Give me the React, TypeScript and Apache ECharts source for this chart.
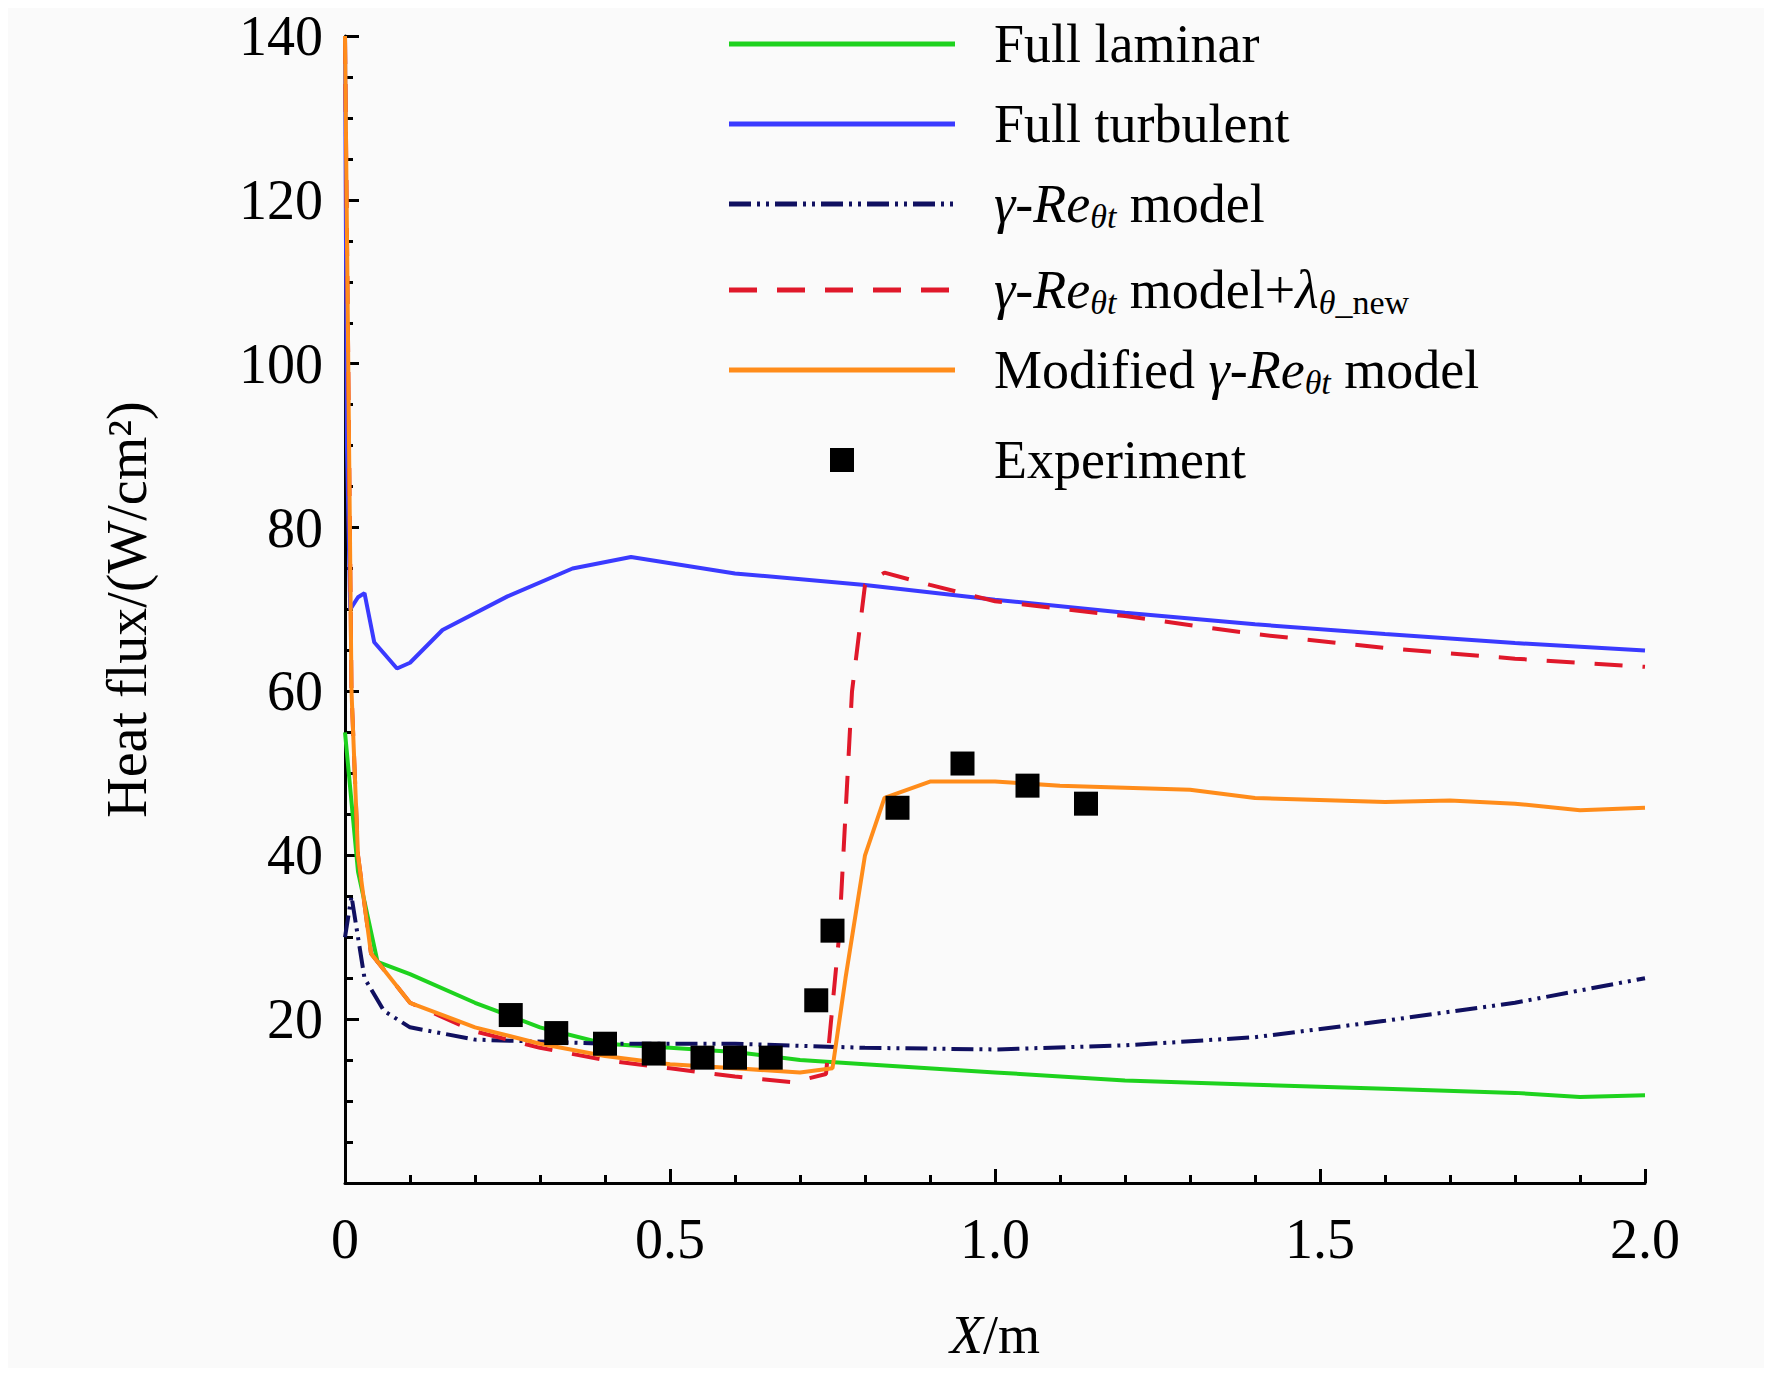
import React, { useEffect, useRef } from 'react';
import * as echarts from 'echarts';

const turbulent = [[0, 140], [0.003, 90], [0.008, 70], [0.02, 71.5], [0.03, 72], [0.045, 66], [0.08, 62.8], [0.1, 63.5], [0.15, 67.5], [0.25, 71.6], [0.35, 75], [0.44, 76.4], [0.6, 74.4], [0.8, 73], [1.0, 71.2], [1.2, 69.6], [1.4, 68.2], [1.6, 67], [1.8, 65.9], [2.0, 65]];
const lambdaNew = [[0, 140], [0.01, 60], [0.02, 40], [0.04, 28], [0.1, 22], [0.2, 18.5], [0.3, 16.5], [0.4, 15], [0.5, 14], [0.6, 13], [0.69, 12.3], [0.74, 13.3], [0.76, 30], [0.78, 60], [0.8, 73], [0.83, 74.5], [0.9, 73], [1.0, 71], [1.2, 69.2], [1.4, 67], [1.6, 65.3], [1.8, 64], [2.0, 63]];
const modified = [[0, 140], [0.01, 60], [0.02, 40], [0.04, 28], [0.1, 22], [0.2, 19], [0.3, 17], [0.4, 15.5], [0.5, 14.5], [0.6, 14], [0.7, 13.5], [0.75, 14], [0.77, 25], [0.8, 40], [0.83, 47], [0.9, 49], [1.0, 49], [1.1, 48.5], [1.3, 48], [1.4, 47], [1.6, 46.5], [1.7, 46.7], [1.8, 46.3], [1.9, 45.5], [2.0, 45.8]];
const laminar = [[0, 55], [0.02, 38], [0.05, 27], [0.1, 25.5], [0.2, 22], [0.3, 19], [0.4, 17], [0.5, 16.5], [0.6, 16], [0.7, 15], [0.8, 14.5], [1.0, 13.5], [1.2, 12.5], [1.4, 12], [1.6, 11.5], [1.8, 11], [1.9, 10.5], [2.0, 10.7]];
const gammaRe = [[0, 30], [0.01, 35], [0.03, 25], [0.06, 21], [0.1, 19], [0.2, 17.5], [0.4, 17], [0.6, 17], [0.8, 16.5], [1.0, 16.3], [1.2, 16.8], [1.4, 17.8], [1.6, 19.8], [1.8, 22], [2.0, 25]];
const experiment = [[0.255, 20.5], [0.325, 18.3], [0.4, 17], [0.475, 15.8], [0.55, 15.3], [0.6, 15.3], [0.655, 15.3], [0.725, 22.3], [0.75, 30.8], [0.85, 45.8], [0.95, 51.2], [1.05, 48.5], [1.14, 46.3]];

const FONT = '"Liberation Serif", "DejaVu Serif", serif';
const rich = {
  i: { fontStyle: 'italic', fontSize: 54, fontFamily: FONT, fill: '#000', color: '#000' },
  n: { fontSize: 54, fontFamily: FONT, fill: '#000', color: '#000' },
  sub: { fontStyle: 'italic', fontSize: 34, fontFamily: FONT, fill: '#000', padding: [24, 0, 0, 0] },
  subn: { fontSize: 34, fontFamily: FONT, fill: '#000', padding: [24, 0, 0, 0] },
};

const legendRows = [
  { text: '{n|Full laminar}', color: '#1ed21e', dash: 'solid' },
  { text: '{n|Full turbulent}', color: '#3a3aff', dash: 'solid' },
  { text: '{i|γ}{n|-}{i|Re}{sub|θt}{n| model}', color: '#101060', dash: [22, 6, 3, 6, 3, 6] },
  { text: '{i|γ}{n|-}{i|Re}{sub|θt}{n| model+}{i|λ}{sub|θ}{subn|_new}', color: '#e0182a', dash: [28, 20] },
  { text: '{n|Modified }{i|γ}{n|-}{i|Re}{sub|θt}{n| model}', color: '#ff8c1a', dash: 'solid' },
];
const rowY = [36, 116, 196, 282, 362];

export default function App() {
  const ref = useRef<HTMLDivElement>(null);
  useEffect(() => {
    if (!ref.current) return;
    const chart = echarts.init(ref.current, null, { renderer: 'svg' });
    const graphic: any[] = [];
    legendRows.forEach((r, k) => {
      graphic.push({ type: 'line', shape: { x1: 721, y1: rowY[k], x2: 947, y2: rowY[k] }, style: { stroke: r.color, lineWidth: 5, lineDash: r.dash === 'solid' ? null : r.dash } });
      graphic.push({ type: 'text', x: 986, y: rowY[k], style: { text: r.text, rich, verticalAlign: 'middle' } });
    });
    graphic.push({ type: 'rect', shape: { x: 822, y: 440, width: 24, height: 24 }, style: { fill: '#000' } });
    graphic.push({ type: 'text', x: 986, y: 452, style: { text: '{n|Experiment}', rich, verticalAlign: 'middle' } });

    const line = (name: string, data: number[][], color: string, type: any) => ({
      name, type: 'line', data, showSymbol: false, symbol: 'none', z: 2,
      lineStyle: { color, width: 4, type },
    });
    chart.setOption({
      animation: false,
      backgroundColor: '#fafafa',
      grid: { left: 337, top: 23, width: 1300, height: 1152 },
      graphic,
      xAxis: {
        type: 'value', min: 0, max: 2, interval: 0.5,
        name: '{i|X}{n|/m}', nameLocation: 'middle', nameGap: 125,
        nameTextStyle: { rich },
        axisLine: { lineStyle: { color: '#000', width: 3 } },
        axisTick: { inside: true, length: 14, lineStyle: { color: '#000', width: 3 } },
        minorTick: { show: true, splitNumber: 5, length: 8, lineStyle: { color: '#000', width: 3 } },
        axisLabel: { fontSize: 56, fontFamily: FONT, color: '#000', margin: 28, formatter: (v: number) => (v === 0 ? '0' : v.toFixed(1)) },
        splitLine: { show: false },
      },
      yAxis: {
        type: 'value', min: 0, max: 140, interval: 20,
        name: 'Heat flux/(W/cm²)', nameLocation: 'middle', nameGap: 190,
        nameTextStyle: { fontSize: 56, fontFamily: FONT, color: '#000' },
        axisLine: { lineStyle: { color: '#000', width: 3 } },
        axisTick: { inside: true, length: 14, lineStyle: { color: '#000', width: 3 } },
        minorTick: { show: true, splitNumber: 4, length: 8, lineStyle: { color: '#000', width: 3 } },
        axisLabel: { fontSize: 56, fontFamily: FONT, color: '#000', margin: 22, formatter: (v: number) => (v === 0 ? '' : String(v)) },
        splitLine: { show: false },
      },
      series: [
        line('Full laminar', laminar, '#1ed21e', 'solid'),
        line('Full turbulent', turbulent, '#3a3aff', 'solid'),
        line('γ-Reθt model', gammaRe, '#101060', [22, 6, 3, 6, 3, 6]),
        line('γ-Reθt model+λθ_new', lambdaNew, '#e0182a', [28, 20]),
        line('Modified γ-Reθt model', modified, '#ff8c1a', 'solid'),
        { name: 'Experiment', type: 'scatter', data: experiment, symbol: 'rect', symbolSize: 24, itemStyle: { color: '#000', opacity: 1 }, z: 3 },
      ],
    });
    return () => chart.dispose();
  }, []);
  return <div ref={ref} style={{ width: 1756, height: 1360 }} />;
}
